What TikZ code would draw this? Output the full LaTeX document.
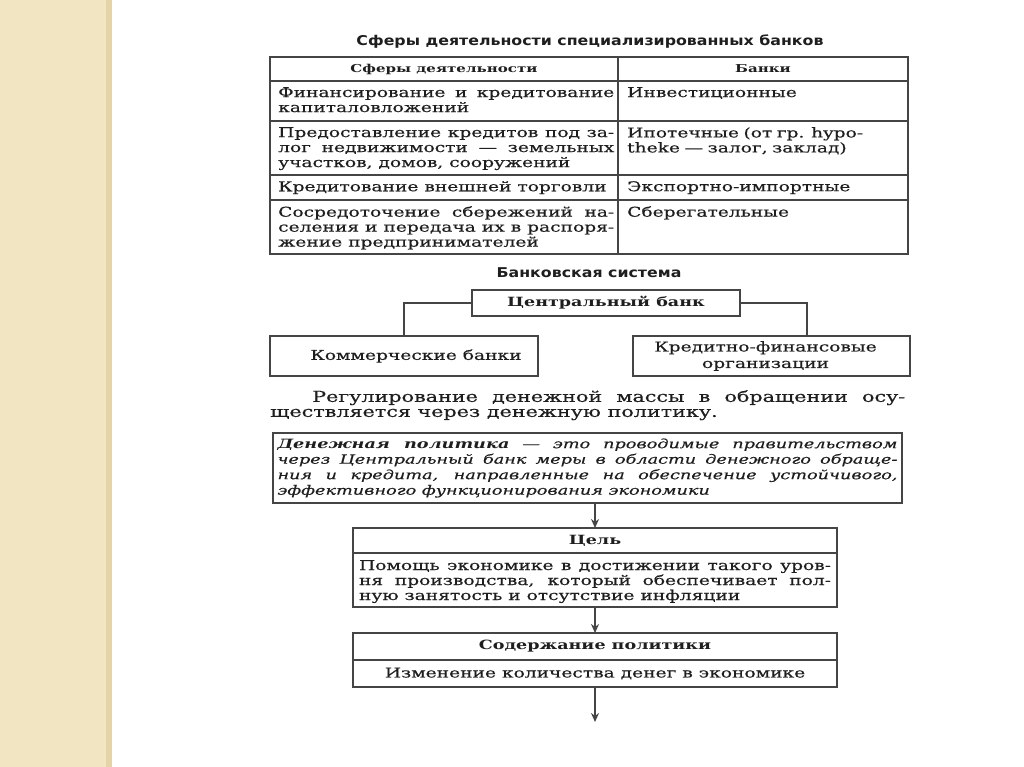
\documentclass[tikz,border=0pt]{standalone}
\usepackage{fontspec}
\setmainfont{DejaVu Serif}[FakeStretch=1.38, UprightFeatures={FakeBold=0.4}, ItalicFeatures={FakeBold=0.4}]
\newfontfamily\headsans{DejaVu Sans}[FakeStretch=1.17]
\usepackage{tikz}
\usetikzlibrary{positioning, arrows.meta}
\usepackage{xcolor}

\definecolor{stripbeige}{HTML}{F2E5C1}
\definecolor{stripedge}{HTML}{E4D4A8}
\definecolor{inkgray}{HTML}{1E1E1E}
\definecolor{rulegray}{HTML}{454545}

\newcommand{\cellfont}{\fontsize{13.5}{15}\selectfont}
\newcommand{\pairfont}{\fontsize{13.5}{16.5}\selectfont}
\newcommand{\boxbold}{\bfseries\fontsize{12.7}{15}\selectfont}
\newcommand{\headserif}{\bfseries\fontsize{10.9}{13}\selectfont}
\newcommand{\titlefont}{\headsans\bfseries\fontsize{13.5}{16}\selectfont}
\newcommand{\parafont}{\fontsize{15}{15}\selectfont}
\newcommand{\deffont}{\itshape\fontsize{12.8}{15.5}\selectfont}

\tolerance=9999
\hbadness=10000

\begin{document}
\begin{tikzpicture}[x=1pt, y=-1pt,
    every node/.style={text=inkgray},
    tabline/.style={draw=rulegray, line width=2pt},
    box/.style={draw=rulegray, line width=1.8pt, inner sep=0pt, outer sep=0pt, align=center, font=\cellfont},
    celltext/.style={anchor=north west, inner sep=0pt, text width=#1, font=\cellfont},
    link/.style={draw=rulegray, line width=1.6pt},
    flow/.style={draw=rulegray, line width=2pt, -{Stealth[length=9pt, width=8pt]}},
    heading/.style={font=\titlefont, inner sep=0pt}]

    % Page with the beige strip on the left
    \useasboundingbox (0,0) rectangle (1024,767);
    \fill[white] (0,0) rectangle (1024,767);
    \fill[stripbeige] (0,0) rectangle (106,767);
    \fill[stripedge] (106,0) rectangle (112,767);

    % Table title
    \node[heading] (tabTitle) at (590,42) {Сферы деятельности специализированных банков};

    % Table grid
    \draw[tabline] (270,57) rectangle (908,254);
    \foreach \y in {81,121,175,200} {
        \draw[tabline] (270,\y) -- (908,\y);
    }
    \draw[tabline] (618,57) -- (618,254);

    % Header row
    \node[font=\headserif] (headSphere) at (444,69) {Сферы деятельности};
    \node[font=\headserif] (headBank) at (763,69) {Банки};

    % Left column: spheres of activity
    \node[celltext=336, align=justify] (sphere1) at (278,87) {Финансирование и кредитование\linebreak капиталовложений};
    \node[celltext=336, align=justify] (sphere2) at (278,127) {Предоставление кредитов под за-\linebreak лог недвижимости — земельных\linebreak участков, домов, сооружений};
    \node[celltext=336, align=justify] (sphere3) at (278,181) {Кредитование внешней торговли};
    \node[celltext=336, align=justify] (sphere4) at (278,206) {Сосредоточение сбережений на-\linebreak селения и передача их в распоря-\linebreak жение предпринимателей};

    % Right column: banks
    \node[celltext=275, align=left] (bank1) at (627,87) {Инвестиционные};
    \node[celltext=275, align=left] (bank2) at (627,127) {Ипотечные (от гр. hypo-\\theke — залог, заклад)};
    \node[celltext=275, align=left] (bank3) at (627,181) {Экспортно-импортные};
    \node[celltext=275, align=left] (bank4) at (627,206) {Сберегательные};

    % Banking system
    \node[heading] (sysTitle) at (589,273) {Банковская система};
    \node[box, font=\boxbold, minimum width=268, minimum height=26] (central) at (606,303) {Центральный банк};
    \node[box, minimum width=268, minimum height=40] (commercial) at (404,356) {\hspace*{24pt}Коммерческие банки};
    \node[box, font=\pairfont, minimum width=277, minimum height=40] (credit) at (771.5,356)
        {\hspace*{-12pt}Кредитно-финансовые\\\hspace*{-12pt}организации};
    \draw[link] (central.west) -| (commercial.north);
    \draw[link] (central.east) -| ([xshift=35.5pt]credit.north);

    % Paragraph
    \node[anchor=north west, inner sep=0pt, text width=635, align=justify, font=\parafont] (regText) at (270,390)
        {\noindent\hspace*{42pt}Регулирование денежной массы в обращении осу-\linebreak ществляется через денежную политику.};

    % Definition box
    \node[box, font=\deffont, minimum width=629, minimum height=70, text width=620, align=justify] (definition) at (587.5,468)
        {\textbf{Денежная политика} — это проводимые правительством\linebreak через Центральный банк меры в области денежного обраще-\linebreak ния и кредита, направленные на обеспечение устойчивого,\linebreak эффективного функционирования экономики};

    % Goal
    \node[box, font=\boxbold, minimum width=484, minimum height=25] (goalHead) at (595,540.5) {Цель};
    \node[box, below=0pt of goalHead, minimum width=484, minimum height=54, text width=472, align=justify] (goalBody)
        {\rule{0pt}{13pt}Помощь экономике в достижении такого уров-\linebreak ня производства, который обеспечивает пол-\linebreak ную занятость и отсутствие инфляции};

    % Content of the policy
    \node[box, font=\boxbold, minimum width=484, minimum height=27] (contHead) at (595,646.5) {Содержание политики};
    \node[box, below=0pt of contHead, minimum width=484, minimum height=27] (contBody) {Изменение количества денег в экономике};
    \coordinate (flowEnd) at (595,722);

    % Arrows
    \draw[flow] (definition.south -| goalHead.north) -- (goalHead.north);
    \draw[flow] (goalBody.south) -- (contHead.north);
    \draw[flow] (contBody.south) -- (flowEnd);
\end{tikzpicture}
\end{document}
